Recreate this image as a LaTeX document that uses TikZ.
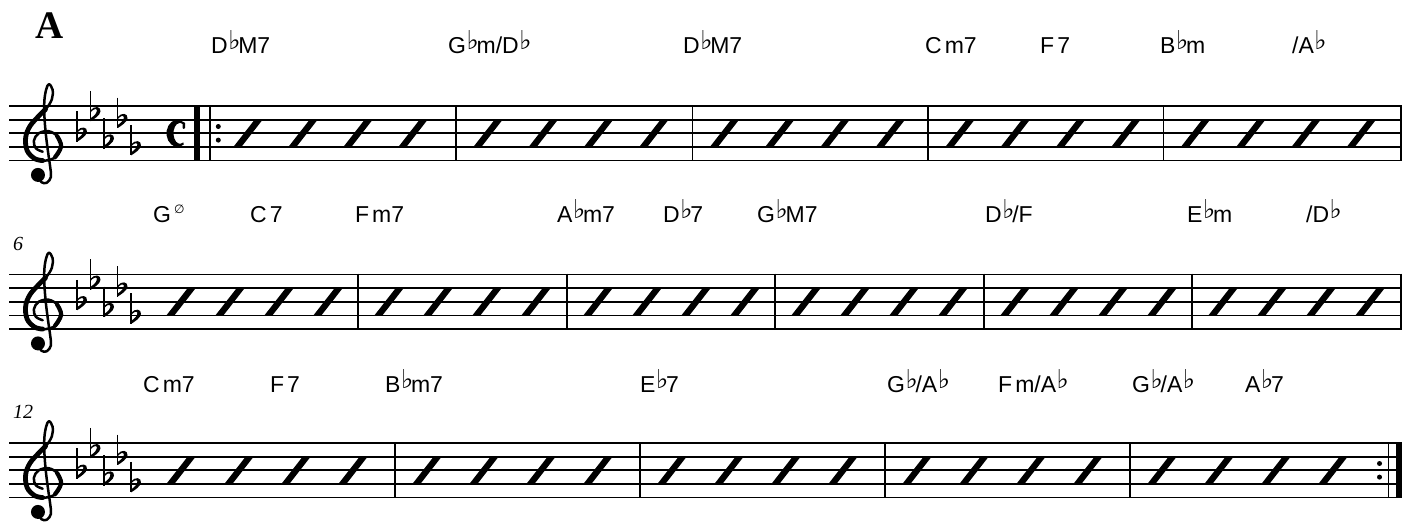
\documentclass[tikz,border=0pt]{standalone}
\usepackage{fontspec}
\setmainfont{Liberation Serif}
\newfontfamily\chordfont{Liberation Sans}
\newfontfamily\symfont{DejaVu Sans}
\newcommand\fl{\kern0.5pt\makebox[10pt][l]{\raisebox{3.5pt}{\symfont\fontsize{26}{26}\selectfont ♭}}}
\newcommand\hdim{\kern3pt\raisebox{9pt}{\symfont\fontsize{12}{12}\selectfont ∅}}
\newcommand\gclef[2]{%
  \begin{scope}[shift={(#1,{#2})}, x=13.65pt, y=13.65pt]
    \draw[line width=2.5pt, line cap=round, line join=round] plot[smooth, tension=0.6] coordinates {(0.95,-2.05) (1.2,-2.58) (1.6,-2.62) (1.9,-2.2) (1.85,-1.5) (1.68,-0.3) (1.52,1.0) (1.42,2.3) (1.42,3.4) (1.55,4.2) (1.75,4.6) (2.02,4.2) (1.97,3.5) (1.55,2.8) (0.9,2.15) (0.35,1.5) (0.05,0.7) (0.15,-0.25) (0.7,-0.85) (1.5,-1.0) (2.3,-0.7) (2.65,0.05) (2.4,0.75) (1.75,1.15) (1.0,1.0) (0.65,0.45) (0.8,-0.1) (1.3,-0.35)};
    \draw[line width=4.8pt, line cap=round] plot[smooth, tension=0.6] coordinates {(1.5,2.75) (0.9,2.15) (0.35,1.5) (0.05,0.7) (0.15,-0.25) (0.7,-0.85) (1.3,-1.0)};
    \draw[line width=4.2pt, line cap=round] plot[smooth, tension=0.6] coordinates {(2.2,-0.75) (2.65,0.05) (2.35,0.8)};
    \fill (0.95,-2.05) circle[radius=7pt];
  \end{scope}}
\newcommand\kflat[2]{%
  \begin{scope}[shift={(#1,{#2})}, yscale=-1]
    \draw[line width=1.4pt] (0,22) -- (0,-8.5);
    \fill (0,2.5) .. controls (4,7.5) and (10.5,6.5) .. (10,1.5) .. controls (9.5,-2.5) and (4,-6) .. (0,-8.5) -- (0,-5.5) .. controls (4,-3) and (7,0.5) .. (6.3,2.8) .. controls (5.6,4.8) and (2.5,3.5) .. (0,0.3) -- cycle;
  \end{scope}}
\newcommand\slashnote[2]{%
  \fill ({#1-15},{#2+41.4}) -- ({#1-7},{#2+41.4}) -- ({#1+15},{#2+13.2}) -- ({#1+7},{#2+13.2}) -- cycle;}
\tikzset{
  staffline/.style={line width=1.7pt},
  barline/.style={line width=1.7pt},
  thickbar/.style={line width=5.8pt},
  chord/.style={anchor=base west, inner sep=0pt, font=\chordfont\fontsize{23}{27}\selectfont},
  mnum/.style={anchor=base west, inner sep=0pt, font=\fontsize{20}{24}\selectfont\itshape},
  rehearsal/.style={anchor=base west, inner sep=0pt, font=\fontsize{39}{44}\selectfont\bfseries},
}
\begin{document}
\begin{tikzpicture}[x=1pt,y=-1pt]
\useasboundingbox[fill=white] (0,0) rectangle (1415,525);
% staves, clefs, key signatures
\foreach \t in {106,274.5,443}{
  \foreach \i in {0,...,4}{
    \draw[staffline] (9,{\t+\i*13.65}) -- (1401.5,{\t+\i*13.65});
  }
  \gclef{25}{\t+3*13.65}
  \kflat{77}{\t+2*13.65}
  \kflat{90.5}{\t+0.5*13.65}
  \kflat{104}{\t+2.5*13.65}
  \kflat{117.5}{\t+1*13.65}
  \kflat{131}{\t+3*13.65}
}
% common time
\begin{scope}[shift={(177.5,133.3)}, yscale=-1]
  \fill (6.31,11.06) arc[start angle=55, end angle=305, x radius=11, y radius=13.5] -- (5.75,-9.09) arc[start angle=300, end angle=60, x radius=6.5, y radius=10.5] -- cycle;
  \fill[rounded corners=1pt] (5.0,11.2) rectangle (7.6,4.5);
\end{scope}
% barlines system 1
\foreach \x in {456,692.5,928,1163.5,1400.65}
  \draw[barline] (\x,105.15) -- (\x,161.45);
\draw[thickbar] (197.3,105.15) -- (197.3,161.45);
\draw[barline] (210,105.15) -- (210,161.45);
\fill (218.3,126.5) circle[radius=2.5pt] (218.3,140.1) circle[radius=2.5pt];
% barlines system 2
\foreach \x in {358,567,775,984,1192,1400.65}
  \draw[barline] (\x,273.65) -- (\x,329.95);
% barlines system 3
\foreach \x in {395,640,885,1130,1388.5}
  \draw[barline] (\x,442.15) -- (\x,498.45);
\draw[thickbar] (1398.6,442.15) -- (1398.6,498.45);
\fill (1379.5,463.5) circle[radius=2.5pt] (1379.5,477.1) circle[radius=2.5pt];
% slashes
\foreach \c in {248,303,358,413} { \slashnote{\c}{106} }
\foreach \L in {456,692.5,928,1163.5}{
  \foreach \k in {0,...,3}{ \pgfmathsetmacro\cc{\L+32+\k*55.3} \slashnote{\cc}{106} } }
\foreach \c in {181,230,279,328} { \slashnote{\c}{274.5} }
\foreach \L in {358,567,775,984,1192}{
  \foreach \k in {0,...,3}{ \pgfmathsetmacro\cc{\L+31+\k*49} \slashnote{\cc}{274.5} } }
\foreach \c in {181,239,296,353} { \slashnote{\c}{443} }
\foreach \L in {395,640,885,1130}{
  \foreach \k in {0,...,3}{ \pgfmathsetmacro\cc{\L+32+\k*57} \slashnote{\cc}{443} } }
% texts
\node[rehearsal] (mark) at (35,38) {A};
\node[mnum] (n6) at (13,250) {6};
\node[mnum] (n12) at (13,418) {12};
% chords system 1
\node[chord] (a1) at (211,53) {D\fl M7};
\node[chord] (a2) at (448,53) {G\fl m/D\fl};
\node[chord] (a3) at (683,53) {D\fl M7};
\node[chord] (a4) at (925,53) {C\kern3pt m7};
\node[chord] (a5) at (1040,53) {F\kern3pt 7};
\node[chord] (a6) at (1160,53) {B\fl m};
\node[chord] (a7) at (1292,53) {/A\fl};
% chords system 2
\node[chord] (b1) at (153,222) {G\hdim};
\node[chord] (b2) at (250,222) {C\kern3pt 7};
\node[chord] (b3) at (355,222) {F\kern3pt m7};
\node[chord] (b4) at (557,222) {A\fl m7};
\node[chord] (b5) at (663,222) {D\fl 7};
\node[chord] (b6) at (757,222) {G\fl M7};
\node[chord] (b7) at (985,222) {D\fl /F};
\node[chord] (b8) at (1187,222) {E\fl m};
\node[chord] (b9) at (1306,222) {/D\fl};
% chords system 3
\node[chord] (d1) at (143,392) {C\kern3pt m7};
\node[chord] (d2) at (270,392) {F\kern3pt 7};
\node[chord] (d3) at (385,392) {B\fl m7};
\node[chord] (d4) at (640,392) {E\fl 7};
\node[chord] (d5) at (887,392) {G\fl /A\fl};
\node[chord] (d6) at (998,392) {F\kern3pt m/A\fl};
\node[chord] (d7) at (1132,392) {G\fl /A\fl};
\node[chord] (d8) at (1245,392) {A\fl 7};
\end{tikzpicture}
\end{document}
